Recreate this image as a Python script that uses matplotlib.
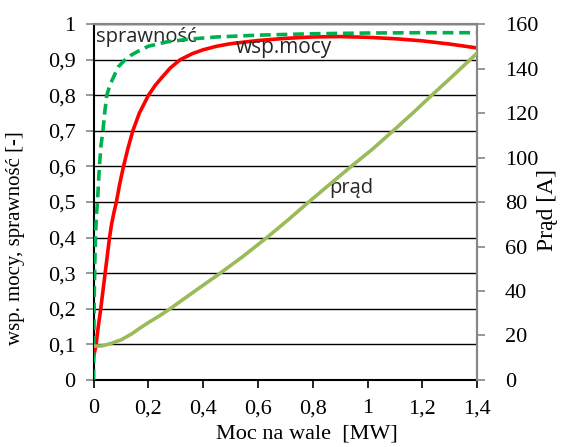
import numpy as np
import matplotlib.pyplot as plt
from matplotlib.ticker import FuncFormatter, MultipleLocator

# moc na wale [MW]
p_spr = [0, 0.001, 0.002, 0.004, 0.007, 0.01, 0.014, 0.021, 0.027, 0.034, 0.041, 0.048,
         0.06, 0.072, 0.09, 0.115, 0.135, 0.158, 0.2, 0.267, 0.35, 0.45, 0.6, 0.8,
         1.0, 1.2, 1.4]
sprawnosc = [0, 0.12, 0.22, 0.32, 0.41, 0.46, 0.5, 0.6, 0.66, 0.7, 0.755, 0.8,
             0.83, 0.85, 0.88, 0.9, 0.912, 0.922, 0.938, 0.95, 0.958, 0.964, 0.969, 0.973,
             0.975, 0.976, 0.976]

p_wsp = [0, 0.004, 0.009, 0.017, 0.026, 0.034, 0.042, 0.05, 0.058, 0.066, 0.074, 0.083,
         0.095, 0.109, 0.125, 0.143, 0.167, 0.2, 0.225, 0.249, 0.28, 0.316, 0.36, 0.4,
         0.45, 0.5, 0.6, 0.7, 0.8, 0.9, 1.0, 1.1, 1.2, 1.3, 1.4]
wsp_mocy = [0.065, 0.08, 0.1, 0.15, 0.2, 0.25, 0.3, 0.35, 0.4, 0.44, 0.47, 0.5,
            0.55, 0.6, 0.65, 0.7, 0.75, 0.8, 0.828, 0.85, 0.877, 0.9, 0.917, 0.928,
            0.938, 0.945, 0.954, 0.96, 0.964, 0.965, 0.963, 0.959, 0.953, 0.944, 0.933]

p_prad = [0, 0.03, 0.06, 0.1, 0.14, 0.17, 0.2, 0.24, 0.279, 0.37, 0.462, 0.55,
          0.632, 0.71, 0.785, 0.862, 0.94, 1.02, 1.093, 1.165, 1.234, 1.305, 1.374, 1.4]
prad = [15.2, 15.3, 16.3, 18.0, 20.8, 23.4, 25.8, 28.8, 32, 40, 48, 56,
        64, 72, 80, 88, 96, 104, 112, 120, 128, 136, 144, 147]

serif = 'Liberation Serif'
sans = 'Open Sans'
grey = '#868686'


def comma(v, pos=None):
    if abs(v - round(v)) < 1e-9:
        return f"{int(round(v))}"
    return f"{v:.1f}".replace(".", ",")


fig = plt.figure(figsize=(5.64, 4.47), dpi=100)
ax = fig.add_axes([0.166, 0.150, 0.680, 0.796])
ax2 = ax.twinx()

ax.set_xlim(0, 1.4)
ax.set_ylim(0, 1)
ax2.set_ylim(0, 160)

ax.yaxis.set_major_locator(MultipleLocator(0.1))
ax.xaxis.set_major_locator(MultipleLocator(0.2))
ax2.yaxis.set_major_locator(MultipleLocator(20))
ax.xaxis.set_major_formatter(FuncFormatter(comma))
ax.yaxis.set_major_formatter(FuncFormatter(comma))

ax.grid(axis='y', color='black', linewidth=1.0)
ax.set_axisbelow(True)

ax.plot(p_wsp, wsp_mocy, color='#ff0000', linewidth=2.6, zorder=3)
ax.plot(p_spr, sprawnosc, color='#00b050', linewidth=2.6, linestyle=(0, (3, 1.6)), zorder=4)
ax2.plot(p_prad, prad, color='#9bbb59', linewidth=2.6, zorder=3)

for a in (ax, ax2):
    for s in a.spines.values():
        s.set_color(grey)
        s.set_linewidth(1.5)
ax.spines['left'].set_color('#000000')
ax.spines['bottom'].set_color('#000000')
ax2.spines['left'].set_visible(False)
ax2.spines['bottom'].set_visible(False)

ax.tick_params(axis='y', direction='out', length=6, width=1.2, color=grey,
               labelsize=16, pad=7, labelfontfamily=serif)
ax.tick_params(axis='x', direction='out', length=6, width=1.2, color='#000000',
               labelsize=16, pad=8, labelfontfamily=serif)
ax2.tick_params(axis='y', direction='out', length=6, width=1.2, color=grey,
                labelsize=16, pad=14, labelfontfamily=serif)

ax.set_xlabel('Moc na wale  [MW]', family=serif, fontsize=16)
ax.set_ylabel('wsp. mocy, sprawność [-]', family=serif, fontsize=15)
ax.yaxis.set_label_coords(-0.18, 0.40)
ax.xaxis.set_label_coords(0.557, -0.125)
ax2.set_ylabel('Prąd [A]', family=serif, fontsize=17)
ax2.yaxis.set_label_coords(1.155, 0.478)

ax.text(0.008, 0.993, 'sprawność', family=sans, fontsize=14.5, va='top', ha='left', color='#262626')
ax.text(0.52, 0.905, 'wsp.mocy', family=sans, fontsize=15, va='bottom', ha='left', color='#262626')
ax.text(0.86, 0.51, 'prąd', family=sans, fontsize=14.5, va='bottom', ha='left', color='#262626')

fig.savefig('out.png', dpi=100)
